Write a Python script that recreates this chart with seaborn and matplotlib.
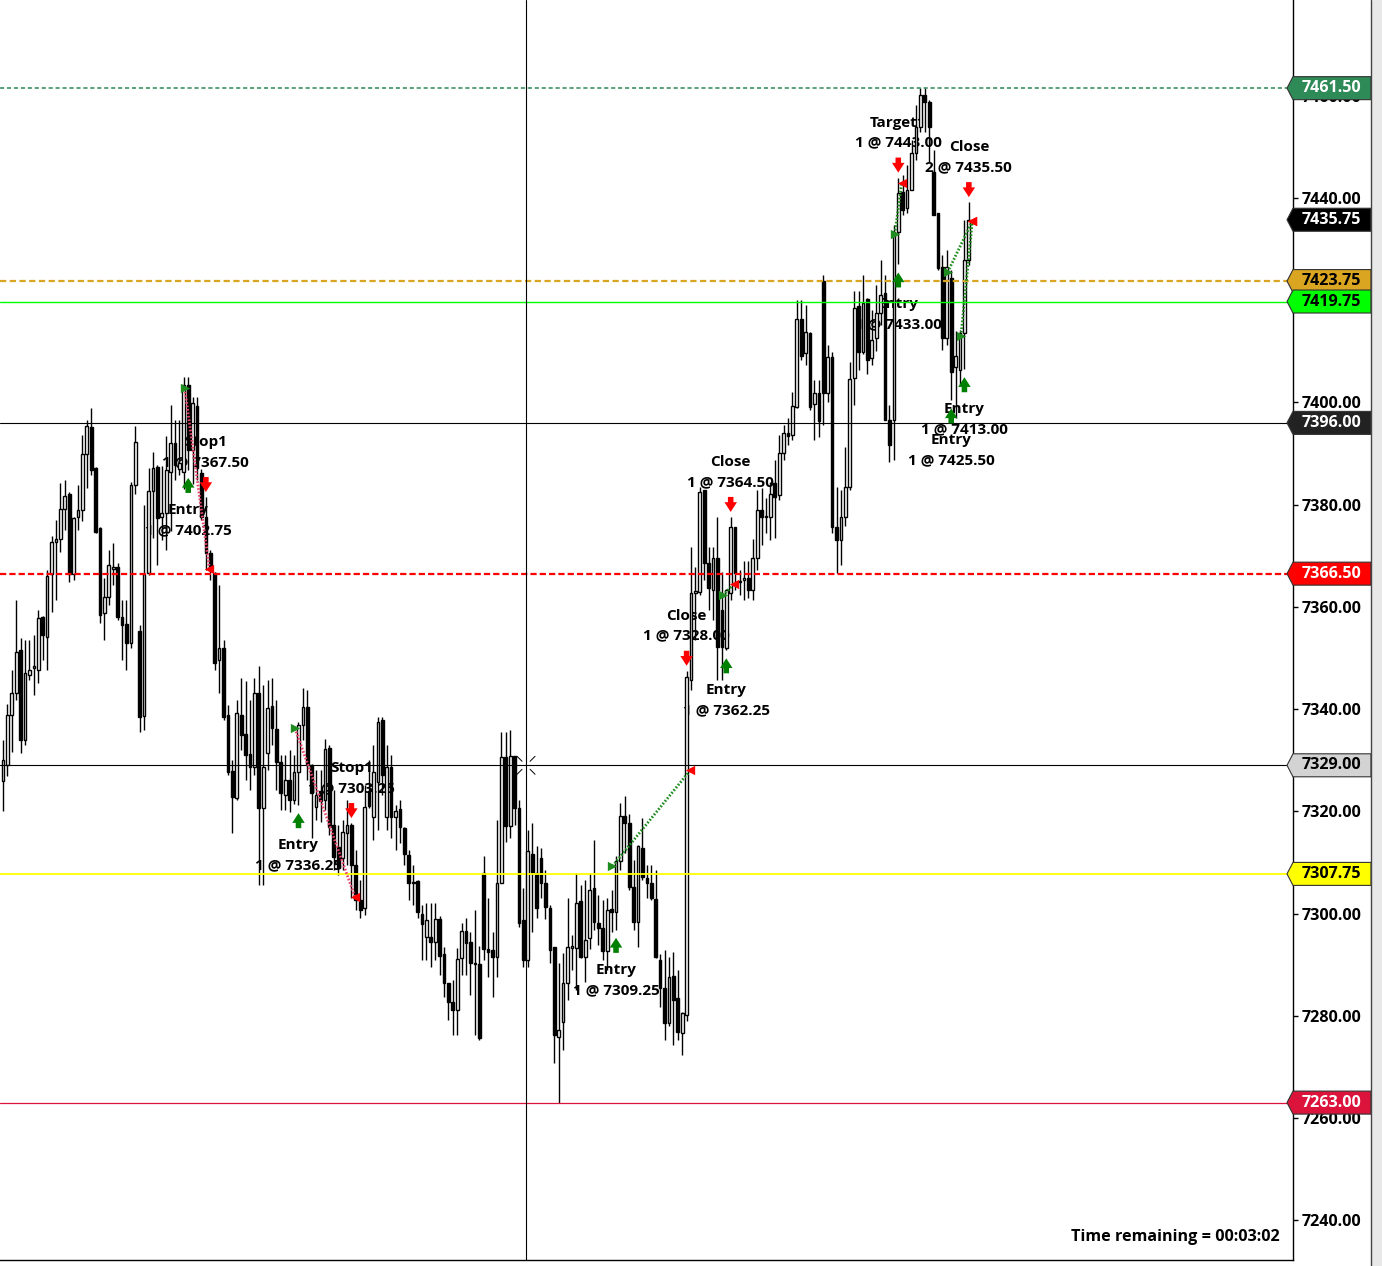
import numpy as np, pandas as pd
import seaborn as sns, matplotlib.pyplot as plt
from matplotlib.patches import Polygon, Rectangle
from matplotlib.lines import Line2D
from matplotlib.transforms import offset_copy, IdentityTransform

# ---- candle data (5 min bars) ----
opens = [
    7326.0, 7329.0, 7338.8, 7343.1, 7351.5, 7333.9, 7346.6, 7348.0, 7347.6, 7358.0,
    7354.1, 7366.4, 7372.7, 7373.3, 7379.1, 7382.1, 7366.4, 7377.6, 7378.9, 7389.9,
    7395.2, 7387.2, 7375.4, 7358.8, 7361.9, 7367.4, 7367.8, 7358.0, 7356.6, 7352.9,
    7383.8, 7355.3, 7338.6, 7366.6, 7382.7, 7387.4, 7377.6, 7378.4, 7386.3, 7392.1,
    7387.0, 7386.3, 7403.4, 7390.7, 7399.3, 7386.2, 7377.6, 7370.5, 7366.6, 7349.6,
    7351.9, 7338.8, 7327.9, 7322.6, 7338.8, 7335.1, 7331.2, 7328.6, 7343.1, 7320.6,
    7331.4, 7340.6, 7336.1, 7329.6, 7323.2, 7326.1, 7322.2, 7327.7, 7336.9, 7340.4,
    7329.0, 7320.8, 7324.0, 7322.2, 7332.4, 7317.3, 7313.0, 7310.8, 7315.7, 7317.3,
    7309.5, 7302.6, 7301.0, 7324.0, 7318.9, 7325.7, 7337.9, 7318.9, 7328.6, 7318.9,
    7320.4, 7316.7, 7311.4, 7306.0, 7306.3, 7300.0, 7295.4, 7295.4, 7294.4, 7298.9,
    7292.1, 7286.4, 7282.7, 7281.1, 7291.3, 7296.6, 7294.4, 7290.3, 7290.1, 7307.9,
    7293.0, 7292.8, 7291.5, 7306.0, 7330.6, 7317.1, 7330.8, 7320.6, 7298.7, 7290.9,
    7311.6, 7307.9, 7310.8, 7306.0, 7301.0, 7293.4, 7275.8, 7278.8, 7286.4, 7293.2,
    7293.2, 7302.4, 7291.5, 7295.2, 7305.0, 7298.1, 7297.2, 7292.6, 7300.8, 7300.2,
    7310.2, 7319.1, 7317.7, 7305.2, 7298.3, 7312.8, 7307.0, 7306.0, 7302.8, 7291.0,
    7285.4, 7278.6, 7287.8, 7283.5, 7276.6, 7280.1, 7345.6, 7362.7, 7362.9, 7382.9,
    7368.6, 7363.3, 7369.6, 7359.4, 7352.0, 7362.7, 7375.6, 7365.0, 7365.2, 7365.6,
    7363.3, 7369.6, 7379.0, 7377.6, 7377.6, 7384.2, 7381.9, 7390.1, 7394.0, 7393.6,
    7399.1, 7416.3, 7409.7, 7413.6, 7399.7, 7401.8, 7423.8, 7401.8, 7408.9, 7375.6,
    7373.1, 7377.6, 7383.4, 7404.8, 7418.9, 7409.9, 7420.2, 7408.7, 7412.6, 7417.5,
    7421.4, 7396.6, 7396.6, 7433.3, 7441.2, 7438.0, 7441.6, 7448.8, 7453.9, 7460.2,
    7458.8, 7445.0, 7437.1, 7426.5, 7412.6, 7424.3, 7407.0, 7406.4, 7413.6, 7427.9,
]
highs = [
    7334.0, 7341.0, 7347.6, 7361.3, 7353.9, 7353.5, 7353.5, 7354.5, 7359.4, 7358.2,
    7367.2, 7373.9, 7377.0, 7384.2, 7384.8, 7382.5, 7377.6, 7383.8, 7393.6, 7396.6,
    7398.9, 7387.4, 7375.6, 7365.6, 7371.1, 7372.5, 7368.6, 7361.3, 7361.3, 7384.4,
    7395.4, 7356.4, 7380.0, 7387.2, 7390.3, 7387.8, 7387.6, 7393.4, 7399.5, 7396.6,
    7396.6, 7405.0, 7405.0, 7401.0, 7401.0, 7387.0, 7381.5, 7371.1, 7366.8, 7364.3,
    7353.5, 7340.8, 7330.0, 7341.8, 7346.1, 7345.5, 7341.8, 7346.1, 7348.4, 7344.7,
    7345.7, 7346.1, 7341.8, 7331.0, 7331.0, 7332.0, 7331.0, 7337.5, 7344.1, 7343.7,
    7329.2, 7328.1, 7328.0, 7334.1, 7333.0, 7324.2, 7317.3, 7318.3, 7322.2, 7317.7,
    7312.4, 7306.5, 7325.1, 7330.0, 7333.0, 7338.4, 7338.4, 7333.0, 7331.0, 7321.2,
    7322.2, 7316.9, 7312.4, 7309.5, 7306.5, 7301.6, 7302.0, 7302.0, 7302.0, 7299.5,
    7293.4, 7286.4, 7287.0, 7293.2, 7298.1, 7299.1, 7296.4, 7300.7, 7293.6, 7311.2,
    7303.0, 7296.4, 7318.3, 7335.5, 7335.5, 7335.9, 7330.8, 7322.2, 7305.0, 7316.3,
    7317.7, 7313.2, 7312.8, 7308.5, 7301.6, 7293.4, 7290.3, 7292.2, 7303.0, 7295.8,
    7307.9, 7305.6, 7306.5, 7308.0, 7314.4, 7303.6, 7302.6, 7303.0, 7304.6, 7311.2,
    7321.6, 7323.0, 7319.5, 7310.5, 7313.4, 7318.7, 7309.5, 7309.5, 7308.5, 7292.0,
    7292.8, 7291.5, 7292.4, 7288.9, 7280.7, 7347.5, 7371.7, 7367.8, 7383.4, 7382.9,
    7371.7, 7371.7, 7377.6, 7366.8, 7363.5, 7377.6, 7375.6, 7367.2, 7369.0, 7369.0,
    7373.3, 7382.9, 7383.2, 7381.3, 7384.4, 7388.7, 7393.6, 7395.6, 7396.9, 7402.0,
    7420.0, 7420.0, 7419.0, 7413.8, 7404.4, 7404.4, 7424.9, 7411.2, 7409.9, 7383.4,
    7382.9, 7391.3, 7407.9, 7421.8, 7421.8, 7424.9, 7420.4, 7418.1, 7423.0, 7427.9,
    7424.9, 7399.5, 7434.7, 7444.0, 7444.5, 7446.5, 7451.4, 7458.2, 7461.5, 7461.5,
    7459.2, 7449.4, 7437.1, 7428.8, 7429.8, 7425.9, 7414.0, 7414.2, 7435.7, 7439.2,
]
lows = [
    7320.0, 7327.0, 7331.6, 7341.8, 7331.4, 7333.0, 7345.7, 7342.7, 7345.1, 7349.6,
    7347.6, 7359.0, 7361.3, 7370.7, 7375.0, 7364.9, 7365.2, 7375.0, 7376.9, 7383.2,
    7385.8, 7374.4, 7356.8, 7353.5, 7360.4, 7364.3, 7357.4, 7349.6, 7347.6, 7352.0,
    7382.0, 7335.5, 7335.9, 7366.2, 7373.5, 7368.2, 7373.1, 7371.1, 7374.8, 7384.8,
    7385.8, 7383.0, 7386.8, 7384.0, 7384.8, 7377.0, 7367.2, 7365.2, 7347.6, 7343.1,
    7337.9, 7327.1, 7315.7, 7322.2, 7332.0, 7326.1, 7324.2, 7327.1, 7305.6, 7305.6,
    7328.1, 7333.0, 7324.2, 7320.2, 7320.2, 7319.8, 7321.5, 7321.2, 7333.9, 7326.1,
    7314.8, 7318.3, 7318.0, 7320.2, 7315.3, 7308.5, 7307.5, 7308.5, 7309.5, 7303.0,
    7300.7, 7299.1, 7299.7, 7320.6, 7314.4, 7316.3, 7323.2, 7316.3, 7314.8, 7312.4,
    7313.8, 7309.5, 7302.6, 7301.6, 7299.1, 7290.9, 7290.9, 7289.5, 7290.9, 7287.9,
    7283.6, 7279.1, 7276.2, 7276.2, 7287.9, 7287.9, 7284.0, 7276.2, 7275.2, 7290.9,
    7287.6, 7283.6, 7287.6, 7306.0, 7314.0, 7314.8, 7317.3, 7297.3, 7289.5, 7289.5,
    7296.4, 7299.1, 7303.0, 7298.9, 7290.3, 7270.7, 7263.0, 7273.3, 7283.1, 7288.9,
    7285.1, 7291.3, 7286.6, 7293.0, 7296.8, 7293.8, 7290.9, 7288.9, 7296.4, 7296.8,
    7308.5, 7311.8, 7304.6, 7296.8, 7293.4, 7306.5, 7303.0, 7302.6, 7291.3, 7281.7,
    7275.2, 7278.0, 7274.2, 7275.2, 7272.3, 7279.0, 7343.7, 7353.5, 7362.3, 7365.2,
    7359.4, 7357.4, 7345.7, 7345.7, 7351.5, 7361.3, 7363.3, 7362.3, 7361.3, 7361.7,
    7361.3, 7367.2, 7372.1, 7374.4, 7373.1, 7373.5, 7380.9, 7388.7, 7391.7, 7392.6,
    7398.9, 7408.3, 7407.3, 7398.5, 7392.6, 7393.2, 7395.6, 7400.1, 7374.4, 7366.6,
    7368.2, 7375.8, 7382.9, 7399.5, 7406.3, 7409.5, 7405.6, 7407.3, 7410.0, 7415.1,
    7396.6, 7388.3, 7388.7, 7427.0, 7436.7, 7437.0, 7441.6, 7447.4, 7452.9, 7452.9,
    7447.0, 7436.7, 7425.9, 7410.3, 7411.2, 7400.4, 7397.0, 7403.4, 7406.5, 7426.9,
]
closes = [
    7330.0, 7338.8, 7343.1, 7351.2, 7333.9, 7347.0, 7347.6, 7348.4, 7357.8, 7354.5,
    7366.0, 7372.7, 7373.3, 7379.1, 7381.7, 7366.4, 7377.4, 7379.0, 7389.9, 7395.4,
    7386.8, 7374.6, 7358.4, 7361.9, 7368.2, 7367.8, 7358.0, 7356.4, 7352.9, 7383.8,
    7392.3, 7338.4, 7366.4, 7382.7, 7387.2, 7377.4, 7378.4, 7386.8, 7392.1, 7387.7,
    7388.2, 7403.4, 7390.7, 7399.8, 7387.2, 7377.6, 7370.5, 7367.2, 7349.0, 7351.9,
    7338.4, 7327.7, 7322.8, 7339.2, 7334.9, 7331.0, 7328.6, 7343.1, 7320.6, 7328.6,
    7340.2, 7336.3, 7329.6, 7323.6, 7326.1, 7322.2, 7327.7, 7336.9, 7340.4, 7329.0,
    7323.6, 7323.2, 7322.0, 7332.2, 7316.9, 7311.0, 7309.0, 7315.9, 7317.3, 7309.5,
    7302.6, 7300.6, 7320.8, 7321.0, 7327.7, 7337.5, 7327.1, 7328.6, 7318.9, 7320.0,
    7316.9, 7311.6, 7305.9, 7306.2, 7300.2, 7298.0, 7298.7, 7294.4, 7298.9, 7291.7,
    7286.4, 7282.7, 7281.1, 7291.1, 7296.6, 7294.2, 7290.3, 7290.1, 7275.6, 7293.0,
    7292.4, 7291.5, 7306.0, 7330.6, 7317.1, 7330.8, 7320.6, 7298.1, 7290.9, 7312.2,
    7308.1, 7301.0, 7306.0, 7301.2, 7292.8, 7276.2, 7277.2, 7286.4, 7293.4, 7293.6,
    7302.0, 7291.5, 7294.8, 7304.6, 7298.3, 7297.2, 7292.6, 7300.6, 7300.2, 7310.2,
    7319.1, 7317.7, 7305.2, 7298.3, 7313.2, 7307.1, 7306.0, 7303.0, 7291.5, 7285.4,
    7278.6, 7287.6, 7283.0, 7276.8, 7280.5, 7346.3, 7362.7, 7363.1, 7382.5, 7368.6,
    7363.7, 7369.6, 7352.1, 7352.1, 7363.3, 7375.6, 7366.6, 7364.8, 7365.6, 7363.3,
    7369.6, 7379.0, 7377.6, 7377.8, 7382.1, 7381.5, 7390.1, 7394.0, 7393.4, 7399.3,
    7416.3, 7409.1, 7413.8, 7399.1, 7401.8, 7396.4, 7401.8, 7408.9, 7375.6, 7373.1,
    7377.6, 7383.4, 7404.6, 7418.5, 7409.9, 7419.5, 7408.3, 7412.2, 7417.5, 7421.0,
    7396.6, 7391.7, 7433.3, 7441.0, 7437.7, 7441.6, 7448.8, 7453.9, 7460.2, 7458.8,
    7453.9, 7436.7, 7426.3, 7412.6, 7426.5, 7406.0, 7409.0, 7413.6, 7427.9, 7435.75,
]

# horizontal price levels and their right-hand tags
levels = [7461.50, 7423.75, 7419.75, 7396.00, 7366.50, 7329.00, 7307.75, 7263.00]
level_colors = ["#2E8B57", "#DAA520", "#00FF00", "black", "red", "black", "yellow", "#DC143C"]
level_styles = [(0, (3, 2)), (0, (4.5, 2.5)), "-", "-", (0, (4.5, 2.2)), "-", "-", "-"]
level_widths = [1.1, 1.6, 1.0, 0.8, 1.6, 0.8, 1.3, 0.9]

tag_prices = [7461.50, 7435.75, 7423.75, 7419.75, 7396.00, 7366.50, 7329.00, 7307.75, 7263.00]
tag_fill = ["#2E8B57", "black", "#DAA520", "#00FF00", "#222222", "#FF0000", "#D3D3D3", "#FFFF00", "#DC143C"]
tag_text = ["white", "white", "black", "black", "white", "white", "black", "black", "white"]

# executions: bar index, label, fill text, side
exec_bar = [42, 46, 67, 79, 139, 155, 164, 165, 203, 203, 215, 218, 219]
exec_name = ["Entry", "Stop1", "Entry", "Stop1", "Entry", "Close", "Entry", "Close",
             "Entry", "Target1", "Entry", "Entry", "Close"]
exec_fill = ["1 @ 7402.75", "1 @ 7367.50", "1 @ 7336.25", "1 @ 7303.25", "1 @ 7309.25",
             "1 @ 7328.00", "1 @ 7362.25", "1 @ 7364.50", "1 @ 7433.00", "1 @ 7443.00",
             "1 @ 7425.50", "1 @ 7413.00", "2 @ 7435.50"]
exec_side = ["buy", "sell", "buy", "sell", "buy", "sell", "buy", "sell",
             "buy", "sell", "buy", "buy", "sell"]

# trades: entry bar/price -> exit bar/price
trade_in_bar = [42, 67, 139, 164, 203, 215, 218]
trade_in_px = [7402.75, 7336.25, 7309.25, 7362.25, 7433.00, 7425.50, 7413.00]
trade_out_bar = [46, 79, 155, 165, 203, 219, 219]
trade_out_px = [7367.50, 7303.25, 7328.00, 7364.50, 7443.00, 7435.50, 7435.50]

time_ticks = [0, 24, 54, 78, 102, 131, 155, 179, 209, 233, 257, 287]
cursor_bar, cursor_px = 118.6, 7329.00

sns.set_theme(style="white")
plt.rcParams["font.family"] = ["Open Sans", "DejaVu Sans"]
plt.rcParams["lines.scale_dashes"] = False

df = pd.DataFrame({"o": opens, "h": highs, "l": lows, "c": closes})
df["i"] = np.arange(len(df))
up = df.c >= df.o
body_lo = np.minimum(df.o, df.c)
body_h = np.maximum((df.c - df.o).abs(), 0.25)

fig = plt.figure(figsize=(13.82, 12.66), dpi=100)
ax = fig.add_axes([0, 6 / 1266, 1293 / 1382, 1260 / 1266])
ax.set_xlim(-0.68, 292.5)
ax.set_ylim(7232.2, 7478.75)

# candles
ax.vlines(df.i, df.l, df.h, color="black", lw=1, zorder=3)
ax.bar(df.i[up], body_h[up], bottom=body_lo[up], width=0.62, color="white",
       edgecolor="black", linewidth=1, zorder=4)
ax.bar(df.i[~up], body_h[~up], bottom=body_lo[~up], width=0.62, color="black",
       edgecolor="black", linewidth=1, zorder=4)

# levels
for p, c, s, w in zip(levels, level_colors, level_styles, level_widths):
    ax.axhline(p, color=c, ls=s, lw=w, zorder=5)
ax.axvline(cursor_bar, color="black", lw=0.8, zorder=5)

# trade lines + markers
for ei, ep, xi, xp in zip(trade_in_bar, trade_in_px, trade_out_bar, trade_out_px):
    col = "#1E8C1E" if xp > ep else "#E8456A"
    sns.lineplot(x=[ei - 0.8, xi + 0.8], y=[ep, xp], ax=ax, color=col, lw=2,
                 linestyle=(0, (1.2, 1.3)), estimator=None, sort=False, zorder=6)
sns.scatterplot(x=np.array(trade_in_bar) - 0.8, y=trade_in_px, ax=ax, marker=">",
                color="#1E8C1E", s=45, linewidth=0, zorder=7)
sns.scatterplot(x=np.array(trade_out_bar) + 0.8, y=trade_out_px, ax=ax, marker="<",
                color="red", s=45, linewidth=0, zorder=7)

# execution arrows and labels
astyle = "simple,head_length=0.7,head_width=0.9,tail_width=0.4"
for b, name, fill, side in zip(exec_bar, exec_name, exec_fill, exec_side):
    if side == "buy":
        ref = df.l[b]
        tr = offset_copy(ax.transData, fig=fig, x=0, y=-8, units="dots")
        ax.annotate("", xy=(b, ref), xycoords=tr, xytext=(0, -15), textcoords="offset pixels",
                    arrowprops=dict(arrowstyle=astyle, mutation_scale=10, color="#008000",
                                    shrinkA=0, shrinkB=0, lw=0), zorder=6)
        offs = (-40, -60)
    else:
        ref = df.h[b]
        tr = offset_copy(ax.transData, fig=fig, x=0, y=5, units="dots")
        ax.annotate("", xy=(b, ref), xycoords=tr, xytext=(0, 15), textcoords="offset pixels",
                    arrowprops=dict(arrowstyle=astyle, mutation_scale=10, color="red",
                                    shrinkA=0, shrinkB=0, lw=0), zorder=6)
        offs = (55, 35)
    for txt, dy in zip((name, fill), offs):
        ax.annotate(txt, xy=(b, ref), xytext=(0, dy), textcoords="offset pixels",
                    ha="center", va="center", fontsize=11, fontweight="bold",
                    color="black", zorder=2)

# right price tags
ytr = ax.get_yaxis_transform()
hh = 2.25
for p, fc, tc in zip(tag_prices, tag_fill, tag_text):
    poly = Polygon([(1287 / 1293, p), (1.0, p + hh), (1371 / 1293, p + hh),
                    (1371 / 1293, p - hh), (1.0, p - hh)], closed=True,
                   transform=ytr, facecolor=fc, edgecolor="#333333", lw=0.8,
                   clip_on=False, zorder=8)
    ax.add_patch(poly)
    ax.text(1331.5 / 1293, p, f"{p:.2f}", transform=ytr, ha="center", va="center",
            color=tc, fontsize=11.6, fontweight="bold", clip_on=False, zorder=9)

# axes styling
ax.yaxis.tick_right()
ax.set_yticks(np.arange(7240, 7461, 20))
ax.set_yticklabels([f"{v:.2f}" for v in np.arange(7240, 7461, 20)],
                   fontsize=11.6, fontweight="bold")
ax.tick_params(axis="y", direction="out", length=3.6, width=1, colors="black", pad=2.5)
ax.set_xticks(time_ticks)
ax.tick_params(axis="x", direction="out", length=4.5, width=1, colors="black",
               labelbottom=False)
for side in ("left", "top"):
    ax.spines[side].set_visible(False)
for side in ("right", "bottom"):
    ax.spines[side].set_color("black")
    ax.spines[side].set_linewidth(1)
ax.set_xlabel("")
ax.set_ylabel("")

ax.text(0.99, 23 / 1260, "Time remaining = 00:03:02", transform=ax.transAxes,
        ha="right", va="center", fontsize=11.6, fontweight="bold", color="black")

# right scrollbar strip
fig.patches.append(Rectangle((1371 / 1382, 0), 11 / 1382, 1, transform=fig.transFigure,
                             facecolor="#e8e8e8", edgecolor="none"))
fig.add_artist(Line2D([1371 / 1382] * 2, [0, 1], transform=fig.transFigure,
                      color="#444444", lw=1))

# crosshair cursor marks
cx, cy = ax.transData.transform((cursor_bar, cursor_px))
for sx in (-1, 1):
    for sy in (-1, 1):
        fig.add_artist(Line2D([cx + sx * 4, cx + sx * 9], [cy + sy * 4, cy + sy * 9],
                              transform=IdentityTransform(), color="black", lw=0.7))

fig.savefig("out.png", dpi=100)
